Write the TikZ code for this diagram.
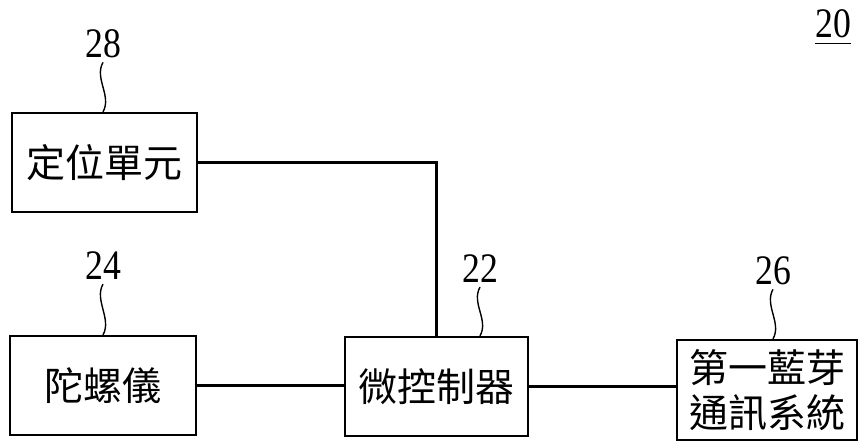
\documentclass[tikz,border=0pt]{standalone}
\usepackage{fontspec}
\usepackage{graphicx}
\newfontfamily\cjk{Noto Sans CJK TC}
\newfontfamily\numfont{Liberation Serif}
\newcommand{\numtxt}[1]{\scalebox{0.85}[1]{#1}}
\begin{document}
\begin{tikzpicture}[x=1pt,y=-1pt,
  blk/.style={draw,line width=2.2pt,rectangle,inner sep=0pt,align=center,
    font=\cjk\fontsize{39}{45}\selectfont},
  num/.style={inner sep=0pt,font=\numfont\fontsize{42}{44}\selectfont},
  wire/.style={line width=2.2pt},
  squig/.style={line width=1.4pt}]
\useasboundingbox (0,0) rectangle (860,446);
\node[blk,minimum width=185pt,minimum height=99pt] (b28) at (104.5,162.5) {定位單元};
\node[blk,minimum width=186pt,minimum height=99pt] (b24) at (103,385.5) {陀螺儀};
\node[blk,minimum width=183pt,minimum height=99pt] (b22) at (436.5,386.5) {微控制器};
\node[blk,minimum width=180pt,minimum height=100pt] (b26) at (767,390) {第一藍芽\\通訊系統};
\node[num] (l28) at (103,44) {\numtxt{28}};
\node[num] (l24) at (103,266) {\numtxt{24}};
\node[num] (l22) at (480,269) {\numtxt{22}};
\node[num] (l26) at (773,271) {\numtxt{26}};
\node[num] (l20) at (833,24) {\numtxt{20}};
\draw[line width=1.6pt] ([yshift=-5pt]l20.south west) -- ([yshift=-5pt]l20.south east);
\foreach \n/\b in {28/b28,24/b24,22/b22,26/b26}{
  \draw[squig] (l\n.south) ++(0,4) .. controls +(-9,16) and +(9,-16) .. (l\n.south |- \b.north);
}
\draw[wire] (b28.east) -| (b22.north);
\draw[wire] (b24.east) -- (b24.east -| b22.west);
\draw[wire] (b22.east) -- (b22.east -| b26.west);
\end{tikzpicture}
\end{document}
